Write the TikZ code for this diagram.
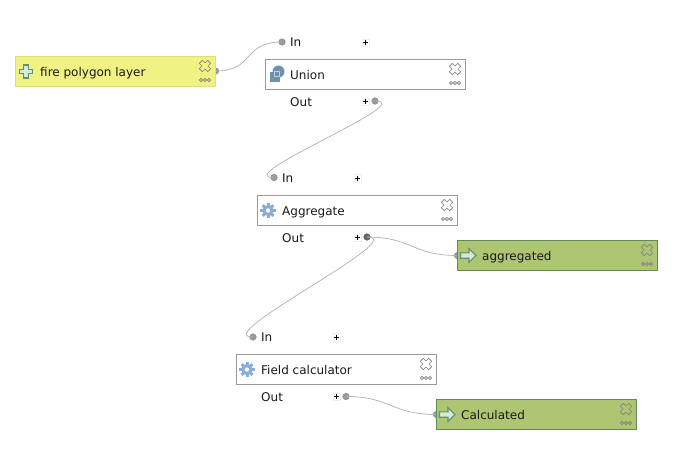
\documentclass[tikz,border=0pt]{standalone}
\usepackage{fontspec}
\setmainfont{DejaVu Sans}
\usetikzlibrary{calc}
\definecolor{linkgray}{HTML}{B0B0B0}
\definecolor{portfill}{HTML}{9A9A9A}
\definecolor{portedge}{HTML}{8A8A8A}
\definecolor{algoedge}{HTML}{9A9A9A}
\definecolor{inputfill}{HTML}{F0F284}
\definecolor{inputedge}{HTML}{DEDE78}
\definecolor{outputfill}{HTML}{AEC572}
\definecolor{outputedge}{HTML}{5F8A5A}
\definecolor{iconblue}{HTML}{8AACD8}
\definecolor{iconslate}{HTML}{6F93AD}
\definecolor{icongreen}{HTML}{5E9270}
\definecolor{iconpale}{HTML}{D8E8D8}
\tikzset{
  x=1pt,y=-1pt,
  modbox/.style={draw,minimum width=200pt,minimum height=30pt,inner sep=0pt,outer sep=0pt,line width=0.8pt},
  algobox/.style={modbox,draw=algoedge,fill=white},
  inputbox/.style={modbox,draw=inputedge,fill=inputfill},
  outputbox/.style={modbox,draw=outputedge,fill=outputfill},
  txt/.style={anchor=base west,inner sep=0pt,font=\fontsize{12}{14}\selectfont,text=black!90},
  port/.style={circle,draw=portedge,fill=portfill,minimum size=6.5pt,inner sep=0pt,line width=0.5pt},
  activeport/.style={port,draw=black!65,fill=black!60},
  plusbox/.style={fill=white,draw=black!6,minimum size=7.5pt,inner sep=0pt,line width=0.3pt},
  plusmark/.style={draw=black,line width=0.9pt},
  link/.style={draw=linkgray,line width=0.7pt},
  ctrl/.style={draw=black!50,line width=0.6pt},
}
% Close cross and the three small dots at a box's top-right corner
\newcommand{\boxcontrols}[1]{%
  \begin{scope}[shift={($(#1.north east)+(-10.5,9.5)$)},ctrl]
    \path[draw] (-2.7,-5.7) -- (0,-3) -- (2.7,-5.7) -- (5.7,-2.7) -- (3,0) -- (5.7,2.7) -- (2.7,5.7) -- (0,3)
      -- (-2.7,5.7) -- (-5.7,2.7) -- (-3,0) -- (-5.7,-2.7) -- cycle;
    \foreach \dx in {-4,0,4}
      \path[draw] (\dx,14) circle[radius=1.6];
  \end{scope}}
% Gear glyph for algorithm steps
\newcommand{\gearicon}[1]{%
  \begin{scope}[shift={($(#1.west)+(10.5,0)$)}]
    \foreach \a in {0,45,...,315}
      \fill[iconblue,rotate=\a] (-1.5,-7.6) rectangle (1.5,0);
    \fill[iconblue] (0,0) circle[radius=5.6];
    \fill[white] (0,0) circle[radius=2.2];
  \end{scope}}
% Green plus glyph for a model input
\newcommand{\plusicon}[1]{%
  \begin{scope}[shift={($(#1.west)+(10.5,0)$)}]
    \path[draw=icongreen,fill=iconpale,line width=1.1pt] (-2.2,-6.5) -- (2.2,-6.5) -- (2.2,-2.2) -- (6.5,-2.2)
      -- (6.5,2.2) -- (2.2,2.2) -- (2.2,6.5) -- (-2.2,6.5) -- (-2.2,2.2) -- (-6.5,2.2) -- (-6.5,-2.2)
      -- (-2.2,-2.2) -- cycle;
  \end{scope}}
% Right-pointing arrow glyph for a model output
\newcommand{\arrowicon}[1]{%
  \begin{scope}[shift={($(#1.west)+(10.5,0)$)}]
    \path[draw=icongreen,fill=iconpale,line width=1.1pt] (-7.5,-2.7) -- (1,-2.7) -- (1,-6.8) -- (8,0)
      -- (1,6.8) -- (1,2.7) -- (-7.5,2.7) -- cycle;
  \end{scope}}
% Collapse toggle: a small white square holding a plus
\newcommand{\toggle}[3]{%
  \node[plusbox] (#1) at (#2,#3) {};
  \draw[plusmark] ($(#1.center)+(-2.5,0)$) -- ($(#1.center)+(2.5,0)$);
  \draw[plusmark] ($(#1.center)+(0,-2.5)$) -- ($(#1.center)+(0,2.5)$);}
\begin{document}
\begin{tikzpicture}
\useasboundingbox (0,0) rectangle (694,469);

% Ports come first so the boxes overlap them
\node[port] (fireout) at (215.5,71) {};
\node[port] (unionin) at (282,42) {};
\node[port] (unionout) at (375,101) {};
\node[port] (aggin) at (274,177.5) {};
\node[activeport] (aggout) at (367,237) {};
\node[port] (aggrin) at (457.5,255.5) {};
\node[port] (fieldin) at (253,337) {};
\node[port] (fieldout) at (346,396.5) {};
\node[port] (calcin) at (436.5,414.5) {};

% Connectors between ports
\draw[link] (fireout.center) .. controls (255,71) and (242,42) .. (unionin.center);
\draw[link] (unionout.center) .. controls (420,101) and (229,177.5) .. (aggin.center);
\draw[link] (aggout.center) .. controls (412,237) and (208,337) .. (fieldin.center);
\draw[link] (aggout.center) .. controls (412,237) and (412,255.5) .. (aggrin.center);
\draw[link] (fieldout.center) .. controls (391,396.5) and (391,414.5) .. (calcin.center);

% Model boxes
\node[inputbox,anchor=north west] (fire) at (15.5,56.5) {};
\node[algobox,anchor=north west] (union) at (265.5,59.5) {};
\node[algobox,anchor=north west] (aggregate) at (257.5,195.5) {};
\node[outputbox,anchor=north west] (aggregated) at (457.5,240.5) {};
\node[algobox,anchor=north west] (field) at (236.5,354.5) {};
\node[outputbox,anchor=north west] (calculated) at (436.5,399.5) {};

\boxcontrols{fire}\boxcontrols{union}\boxcontrols{aggregate}
\boxcontrols{aggregated}\boxcontrols{field}\boxcontrols{calculated}

% Box glyphs
\plusicon{fire}
\begin{scope}[shift={($(union.west)+(10.5,0)$)}]
  \fill[iconslate] (-6.5,-3) rectangle (4,7);
  \fill[iconslate] (2.5,-3) circle[radius=6];
  \draw[white!55!iconslate,line width=0.5pt] (-2,-3) rectangle (3,2);
\end{scope}
\gearicon{aggregate}
\gearicon{field}
\arrowicon{aggregated}
\arrowicon{calculated}

% Box titles
\node[txt] (firetext) at (40,76) {fire polygon layer};
\node[txt] (uniontext) at (290,79) {Union};
\node[txt] (aggtext) at (282,215) {Aggregate};
\node[txt] (aggrtext) at (482,260) {aggregated};
\node[txt] (fieldtext) at (261,374) {Field calculator};
\node[txt] (calctext) at (461,419) {Calculated};

% Port labels
\node[txt] (l1) at (290,46) {In};
\node[txt] (l2) at (290,106) {Out};
\node[txt] (l3) at (282,182) {In};
\node[txt] (l4) at (282,242) {Out};
\node[txt] (l5) at (261,341) {In};
\node[txt] (l6) at (261,401) {Out};

% Collapse toggles
\toggle{p1}{365.5}{42.5}
\toggle{p2}{365.5}{101.5}
\toggle{p3}{357.5}{178}
\toggle{p4}{357.5}{237.5}
\toggle{p5}{336.5}{337}
\toggle{p6}{336.5}{396.5}
\end{tikzpicture}
\end{document}
